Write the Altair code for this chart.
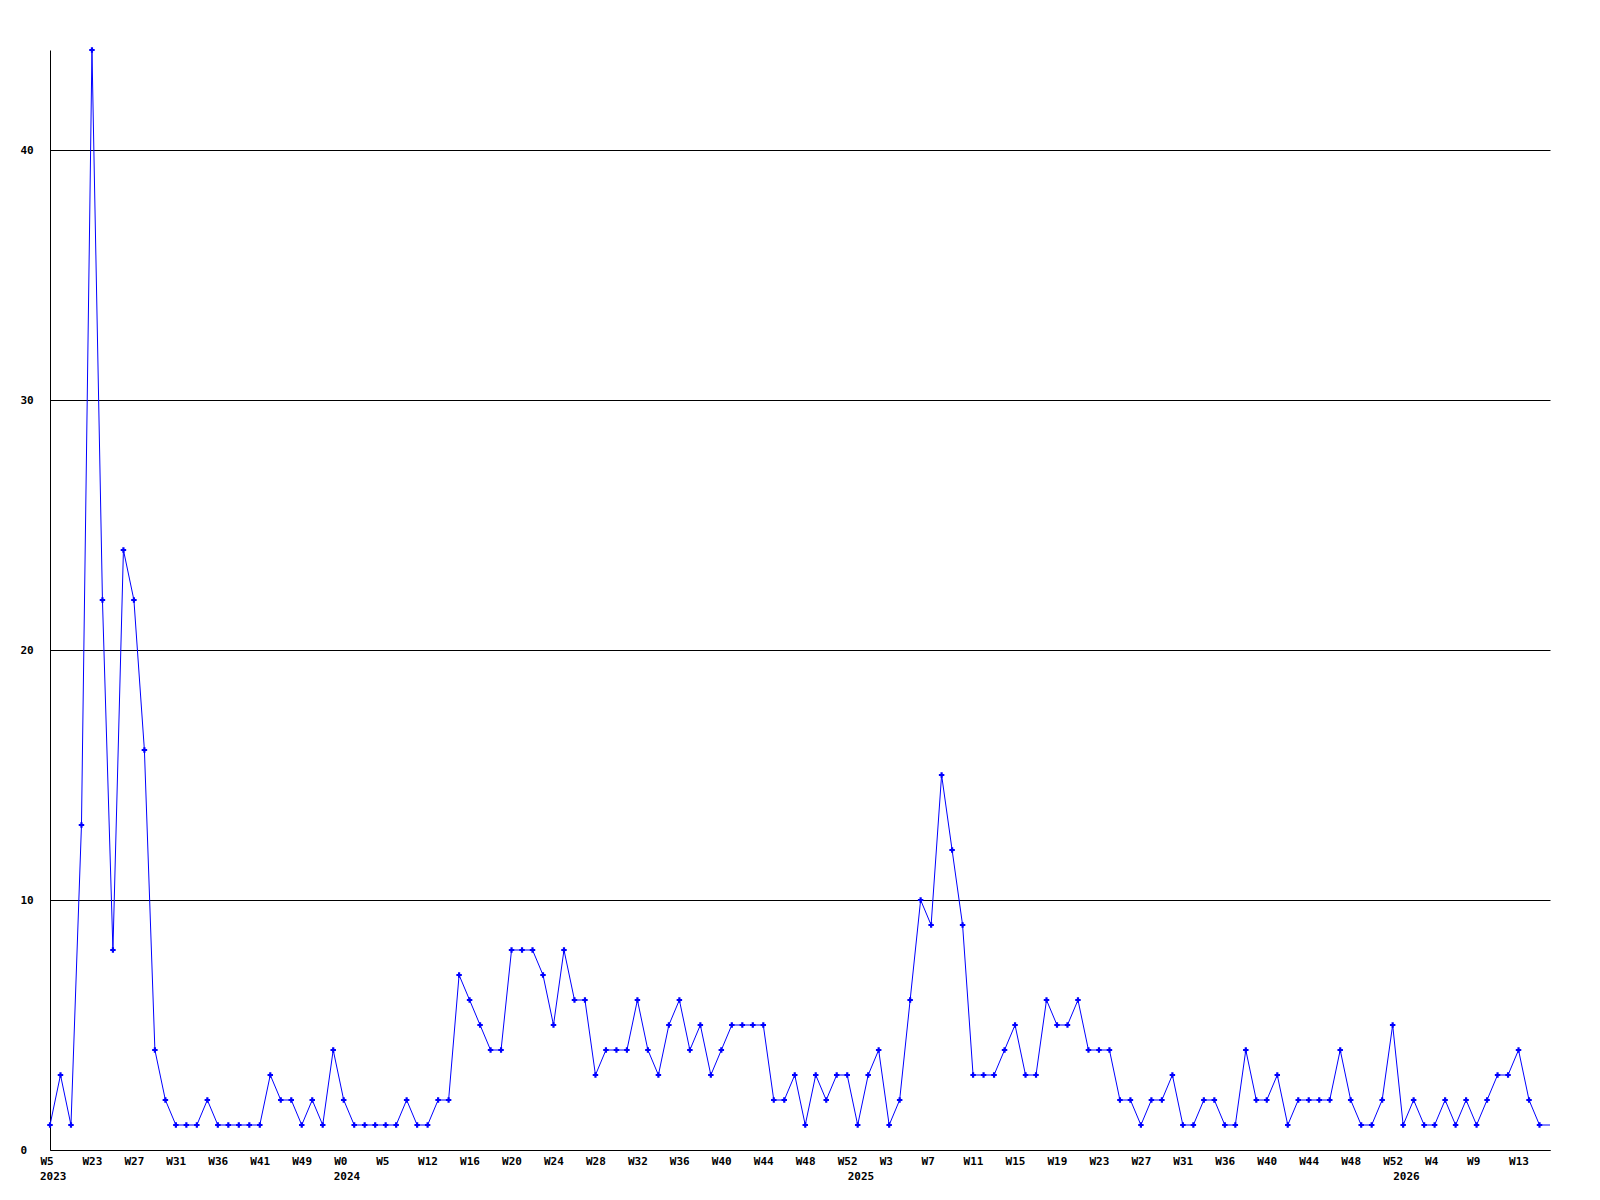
import altair as alt
import pandas as pd

# Weekly counts (one point per week present in the data)
values = [1, 3, 1, 13, 44, 22, 8, 24, 22, 16,
          4, 2, 1, 1, 1, 2, 1, 1, 1, 1,
          1, 3, 2, 2, 1, 2, 1, 4, 2, 1,
          1, 1, 1, 1, 2, 1, 1, 2, 2, 7,
          6, 5, 4, 4, 8, 8, 8, 7, 5, 8,
          6, 6, 3, 4, 4, 4, 6, 4, 3, 5,
          6, 4, 5, 3, 4, 5, 5, 5, 5, 2,
          2, 3, 1, 3, 2, 3, 3, 1, 3, 4,
          1, 2, 6, 10, 9, 15, 12, 9, 3, 3,
          3, 4, 5, 3, 3, 6, 5, 5, 6, 4,
          4, 4, 2, 2, 1, 2, 2, 3, 1, 1,
          2, 2, 1, 1, 4, 2, 2, 3, 1, 2,
          2, 2, 2, 4, 2, 1, 1, 2, 5, 1,
          2, 1, 1, 2, 1, 2, 1, 2, 3, 3,
          4, 2, 1, 1]

# Tick labels every 4th point
week_labels = ["W5", "W23", "W27", "W31", "W36", "W41", "W49", "W0", "W5", "W12",
               "W16", "W20", "W24", "W28", "W32", "W36", "W40", "W44", "W48", "W52",
               "W3", "W7", "W11", "W15", "W19", "W23", "W27", "W31", "W36", "W40",
               "W44", "W48", "W52", "W4", "W9", "W13"]
years = ["2023", "2024", "2025", "2026"]
year_index = [0, 28, 77, 129]

n = len(values)
df = pd.DataFrame({"i": list(range(n)), "v": values})
ydf = pd.DataFrame({"i": year_index, "year": years})

tick_vals = list(range(0, 4 * len(week_labels), 4))
arr = "[" + ",".join("'" + w + "'" for w in week_labels) + "]"

FONT = "DejaVu Sans Mono"
BLUE = "#0000ff"

xscale = alt.Scale(domain=[0, n - 1], nice=False, zero=False)
yscale = alt.Scale(domain=[0, 44], nice=False)

xaxis = alt.Axis(values=tick_vals, labelExpr=arr + "[datum.value/4]",
                 grid=False, ticks=False, tickSize=0, domainColor="black",
                 domainWidth=1, labelAlign="left", labelOffset=-10,
                 labelPadding=5, labelFont=FONT, labelFontWeight="bold",
                 labelFontSize=11, labelColor="black", title=None,
                 labelOverlap=False, labelBaseline="top")
yaxis = alt.Axis(values=[0, 10, 20, 30, 40], grid=True, gridColor="black",
                 gridWidth=1, gridOpacity=1, ticks=False, tickSize=0,
                 domainColor="black", domainWidth=1, labelAlign="left",
                 labelPadding=30, labelFont=FONT, labelFontWeight="bold",
                 labelFontSize=11, labelColor="black", title=None,
                 labelBaseline="middle")

line = alt.Chart(df).mark_line(color=BLUE, strokeWidth=1, clip=True).encode(
    x=alt.X("i:Q", scale=xscale, axis=xaxis),
    y=alt.Y("v:Q", scale=yscale, axis=yaxis),
)

pts = alt.Chart(df).transform_filter(f"datum.i < {n - 1}").mark_point(
    shape="cross", filled=True, size=30, color=BLUE, opacity=1
).encode(
    x=alt.X("i:Q", scale=xscale),
    y=alt.Y("v:Q", scale=yscale),
)

yr = alt.Chart(ydf).mark_text(
    font=FONT, fontWeight="bold", fontSize=11, align="left", baseline="top",
    dx=-10, color="black"
).encode(
    x=alt.X("i:Q", scale=xscale),
    y=alt.value(1121),
    text="year:N",
)

chart = alt.layer(line, pts, yr).properties(
    width=1500, height=1100,
    background="white",
    autosize=alt.AutoSizeParams(type="none"),
    padding={"left": 42, "top": 42, "right": 30, "bottom": 40},
).configure_view(stroke=None, strokeWidth=0)

chart.save("out.html", embed_options={"renderer": "svg", "actions": False})
